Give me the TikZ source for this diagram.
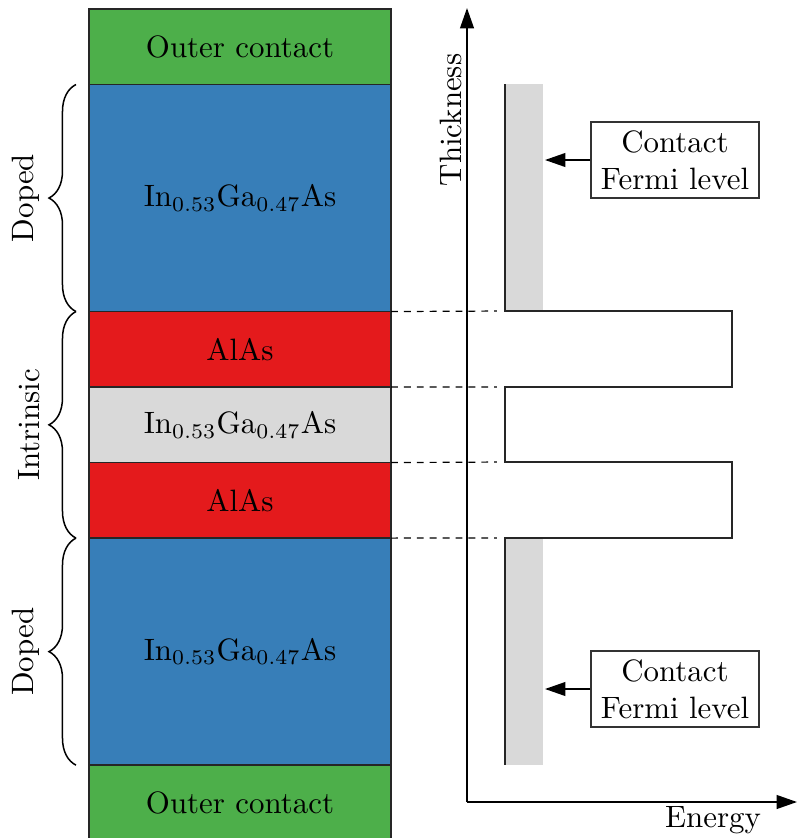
\documentclass[tikz,border=0pt]{standalone}
\usetikzlibrary{arrows.meta,positioning,decorations.pathreplacing}

\definecolor{contactgreen}{HTML}{4DAF4A}
\definecolor{dopedblue}{HTML}{377EB8}
\definecolor{barrierred}{HTML}{E41A1C}
\definecolor{wellgray}{HTML}{D9D9D9}

\tikzset{
  layer/.style={draw=black!85, line width=0.45pt, minimum width=100.67pt, inner sep=0pt, outer sep=0pt},
  thinlayer/.style={layer, minimum height=25.17pt},
  thicklayer/.style={layer, minimum height=75.67pt},
  brace/.style={decorate, decoration={brace, amplitude=9pt}, line width=0.5pt},
  bracelabel/.style={midway, xshift=-9pt, rotate=90, anchor=south, inner sep=2.8pt},
  fermibox/.style={draw=black!80, line width=0.4pt, align=center, minimum width=56pt, minimum height=25.3pt, inner sep=1pt},
  tip/.style={-{Triangle[length=6.8pt, width=4.6pt]}}
}

\begin{document}
\begin{tikzpicture}[x=0.3333pt, y=-0.3333pt, font=\fontsize{10.3}{12.4}\selectfont]
\useasboundingbox (0,0) rectangle (797,838);
% layer stack
\node[thinlayer, fill=contactgreen] (ctop) at (240,46.75) {Outer contact};
\node[thicklayer, fill=dopedblue, below=0pt of ctop] (dtop) {In$_{0.53}$Ga$_{0.47}$As};
\node[thinlayer, fill=barrierred, below=0pt of dtop] (bar1) {AlAs};
\node[thinlayer, fill=wellgray, below=0pt of bar1] (well) {In$_{0.53}$Ga$_{0.47}$As};
\node[thinlayer, fill=barrierred, below=0pt of well] (bar2) {AlAs};
\node[thicklayer, fill=dopedblue, below=0pt of bar2] (dbot) {In$_{0.53}$Ga$_{0.47}$As};
\node[thinlayer, fill=contactgreen, below=0pt of dbot] (cbot) {Outer contact};

% braces
\draw[brace] ([xshift=-4.33pt]dtop.south west) -- ([xshift=-4.33pt]dtop.north west)
  node[bracelabel] {Doped};
\draw[brace] ([xshift=-4.33pt]bar2.south west) -- ([xshift=-4.33pt]bar1.north west)
  node[bracelabel] {Intrinsic};
\draw[brace] ([xshift=-4.33pt]dbot.south west) -- ([xshift=-4.33pt]dbot.north west)
  node[bracelabel] {Doped};

% axes
\coordinate (origin) at (467,802);
\coordinate (ytop) at (467,8);
\coordinate (xend) at (797,802);
\draw[tip, line width=0.6pt] (origin) -- (ytop);
\draw[tip, line width=0.6pt] (origin) -- (xend);
\node[rotate=90] (ylabel) at (451,120) {Thickness};
\node (xlabel) at (713,820) {Energy};

% contact levels
\fill[wellgray] (505,84) rectangle (543,311);
\fill[wellgray] (505,538) rectangle (543,765);

% band profile
\coordinate (p0) at (505,84);
\coordinate (p1) at (505,311);
\coordinate (p2) at (732,311);
\coordinate (p3) at (732,387);
\coordinate (p4) at (505,387);
\coordinate (p5) at (505,462);
\coordinate (p6) at (732,462);
\coordinate (p7) at (732,538);
\coordinate (p8) at (505,538);
\coordinate (p9) at (505,765);
\draw[black!85, line width=0.65pt] (p0) -- (p1) -- (p2) -- (p3) -- (p4) -- (p5)
  -- (p6) -- (p7) -- (p8) -- (p9);

% dashed guides
\draw[dashed, dash pattern=on 2.3pt off 2pt, line width=0.4pt, shorten >=2.7pt] (bar1.north east) -- (p1);
\draw[dashed, dash pattern=on 2.3pt off 2pt, line width=0.4pt, shorten >=2.7pt] (bar1.south east) -- (p4);
\draw[dashed, dash pattern=on 2.3pt off 2pt, line width=0.4pt, shorten >=2.7pt] (bar2.north east) -- (p5);
\draw[dashed, dash pattern=on 2.3pt off 2pt, line width=0.4pt, shorten >=2.7pt] (bar2.south east) -- (p8);

% fermi level labels
\coordinate (edge) at (545,0);
\node[fermibox] (fermitop) at (675,160) {Contact\\Fermi level};
\node[fermibox] (fermibot) at (675,689) {Contact\\Fermi level};
\draw[tip, line width=0.5pt] (fermitop.west) -- (fermitop.west -| edge);
\draw[tip, line width=0.5pt] (fermibot.west) -- (fermibot.west -| edge);
\end{tikzpicture}
\end{document}
